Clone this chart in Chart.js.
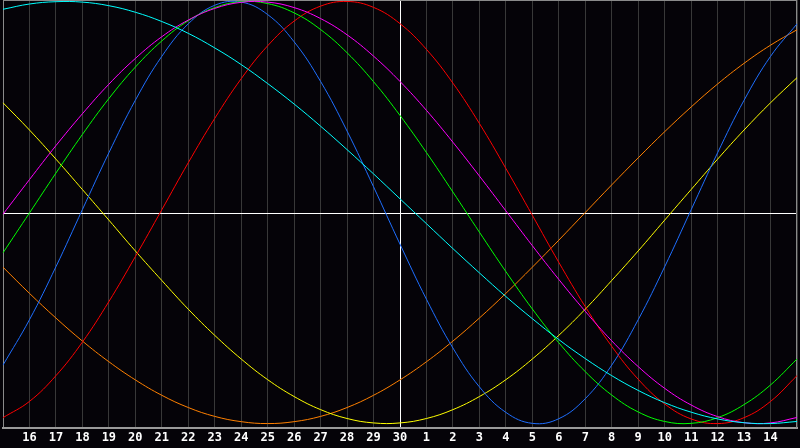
<!DOCTYPE html>
<html>
<head>
<meta charset="utf-8">
<script src="https://cdn.jsdelivr.net/npm/chart.js@4/dist/chart.umd.min.js"></script>
<style>
  html, body { margin: 0; padding: 0; background: #050308; }
  #wrap { width: 800px; height: 448px; }
</style>
</head>
<body>
<div id="wrap"><canvas id="bioChart"></canvas></div>
<script>
// giorni mostrati sull'asse x (dal 15 al 15 del mese dopo)
const dayLabels = ['15','16','17','18','19','20','21','22','23','24','25','26','27','28','29','30',
                   '1','2','3','4','5','6','7','8','9','10','11','12','13','14','15'];

// valori, uno per giorno (-1 .. 1)
const redValues = [-0.972,-0.895,-0.773,-0.614,-0.422,-0.209,0.013,0.236,0.446,0.634,0.790,0.907,0.978,1.000,0.972,0.895,
                   0.773,0.613,0.422,0.209,-0.013,-0.236,-0.446,-0.634,-0.790,-0.907,-0.978,-1.000,-0.972,-0.895,-0.773];
const blueValues = [-0.723,-0.508,-0.257,0.014,0.283,0.532,0.740,0.894,0.982,0.997,0.938,0.809,0.621,0.386,0.122,-0.150,
                    -0.411,-0.642,-0.826,-0.947,-0.999,-0.977,-0.882,-0.723,-0.508,-0.257,0.013,0.283,0.532,0.740,0.894];
const greenValues = [-0.191,-0.002,0.187,0.370,0.540,0.689,0.813,0.909,0.971,0.999,0.990,0.946,0.867,0.757,0.620,0.460,
                     0.284,0.097,-0.093,-0.280,-0.457,-0.617,-0.754,-0.865,-0.945,-0.990,-0.999,-0.972,-0.910,-0.817,-0.694];
const magentaValues = [-0.008,0.156,0.317,0.468,0.608,0.730,0.833,0.912,0.967,0.996,0.997,0.971,0.919,0.842,0.741,0.621,
                       0.484,0.333,0.173,0.008,-0.157,-0.317,-0.468,-0.608,-0.730,-0.833,-0.912,-0.967,-0.996,-0.997,-0.971];
const cyanValues = [0.963,0.988,0.999,0.997,0.980,0.949,0.905,0.849,0.780,0.701,0.611,0.514,0.409,0.298,0.183,0.065,
                    -0.053,-0.171,-0.286,-0.398,-0.503,-0.602,-0.692,-0.773,-0.843,-0.901,-0.946,-0.978,-0.996,-1.000,-0.990];
const yellowValues = [0.520,0.391,0.253,0.109,-0.036,-0.182,-0.322,-0.458,-0.582,-0.694,-0.792,-0.872,-0.934,-0.976,-0.997,-0.997,
                      -0.976,-0.934,-0.872,-0.792,-0.694,-0.582,-0.458,-0.322,-0.182,-0.036,0.109,0.253,0.391,0.520,0.639];
const orangeValues = [-0.259,-0.383,-0.500,-0.609,-0.707,-0.793,-0.866,-0.924,-0.966,-0.991,-1.000,-0.991,-0.966,-0.924,-0.866,-0.793,
                      -0.707,-0.609,-0.500,-0.383,-0.259,-0.131,0.000,0.131,0.259,0.383,0.500,0.609,0.707,0.793,0.866];

// indice del giorno corrente (linea verticale bianca)
const todayIndex = 15;

// Plugin per sfondo, bordo e linea dello zero
const bioPlugin = {
    id: 'bioPlugin',
    beforeDraw(chart) {
        const ctx = chart.ctx;
        ctx.save();
        ctx.fillStyle = '#050308';
        ctx.fillRect(0, 0, chart.width, chart.height);
        ctx.restore();
    },
    beforeDatasetsDraw(chart) {
        const ctx = chart.ctx;
        const area = chart.chartArea;
        const y0 = Math.round(chart.scales.y.getPixelForValue(0)) + 0.5;
        ctx.save();
        ctx.strokeStyle = '#ffffff';
        ctx.lineWidth = 1;
        ctx.beginPath();
        ctx.moveTo(area.left, y0);
        ctx.lineTo(area.right, y0);
        ctx.stroke();
        // bordo superiore e destro
        ctx.strokeStyle = '#8a8a8a';
        ctx.beginPath();
        ctx.moveTo(area.left, area.top + 0.5);
        ctx.lineTo(area.right, area.top + 0.5);
        ctx.moveTo(area.right - 0.5, area.top);
        ctx.lineTo(area.right - 0.5, area.bottom);
        ctx.stroke();
        ctx.restore();
    }
};

function makeLine(data, color) {
    return {
        data: data,
        borderColor: color,
        borderWidth: 1,
        pointRadius: 0,
        tension: 0.4,
        fill: false
    };
}

const bioChart = new Chart(document.getElementById('bioChart').getContext('2d'), {
    type: 'line',
    data: {
        labels: dayLabels,
        datasets: [
            makeLine(cyanValues, '#00ffff'),
            makeLine(magentaValues, '#ff00ff'),
            makeLine(greenValues, '#00ff00'),
            makeLine(redValues, '#ff0000'),
            makeLine(blueValues, '#1f6fff'),
            makeLine(yellowValues, '#ffff00'),
            makeLine(orangeValues, '#ff8000')
        ]
    },
    options: {
        responsive: true,
        maintainAspectRatio: false,
        animation: false,
        layout: { padding: 0 },
        plugins: {
            legend: { display: false },
            tooltip: { enabled: false }
        },
        scales: {
            x: {
                offset: false,
                afterFit: scale => { scale.height = 20; },
                border: { display: true, color: '#9a9a9a', width: 2 },
                grid: {
                    drawTicks: false,
                    lineWidth: 1,
                    color: c => c.index === todayIndex ? '#ffffff'
                        : (c.index === 0 ? '#8a8a8a' : '#383838')
                },
                ticks: {
                    autoSkip: false,
                    maxRotation: 0,
                    padding: 3,
                    color: '#ffffff',
                    font: { family: 'DejaVu Sans Mono', size: 12, weight: 'bold' },
                    callback: (v, i) => (i === 0 || i === dayLabels.length - 1) ? '' : dayLabels[i]
                }
            },
            y: {
                display: false,
                min: -1.021,
                max: 1.007
            }
        }
    },
    plugins: [bioPlugin]
});
</script>
</body>
</html>
